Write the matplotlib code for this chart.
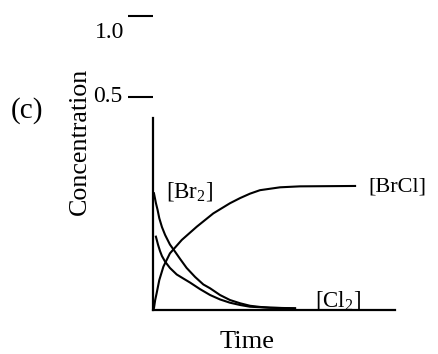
import matplotlib
matplotlib.use("Agg")
import matplotlib.pyplot as plt

plt.rcParams['font.family'] = ['Liberation Serif', 'DejaVu Serif']
plt.rcParams['mathtext.fontset'] = 'custom'
plt.rcParams['mathtext.rm'] = 'Liberation Serif'

# curves (time and concentration in arbitrary units)
t_brcl = [0, 0.04, 0.09, 0.15, 0.26, 0.43, 0.70, 1.19, 1.81, 2.49, 3.18, 3.60,
          4.01, 4.42, 5.25, 6.07, 8.35]
c_brcl = [0, 0.010, 0.052, 0.087, 0.156, 0.226, 0.295, 0.365, 0.434, 0.503,
          0.556, 0.583, 0.606, 0.624, 0.639, 0.644, 0.646]

t_br2 = [0.04, 0.12, 0.19, 0.26, 0.37, 0.50, 0.70, 0.91, 1.12, 1.39, 1.74, 2.08,
         2.36, 2.77, 3.18, 3.60, 4.01, 4.42, 4.84, 5.87]
c_br2 = [0.608, 0.557, 0.521, 0.478, 0.432, 0.391, 0.341, 0.304, 0.266, 0.219,
         0.172, 0.133, 0.113, 0.078, 0.052, 0.035, 0.022, 0.016, 0.012, 0.009]

t_cl2 = [0.12, 0.21, 0.29, 0.37, 0.50, 0.70, 0.98, 1.24, 1.53, 1.94, 2.36, 2.77,
         3.18, 3.60, 4.01, 4.84, 5.87]
c_cl2 = [0.382, 0.339, 0.307, 0.281, 0.252, 0.219, 0.185, 0.165, 0.143, 0.109,
         0.078, 0.055, 0.038, 0.026, 0.017, 0.012, 0.008]

tick_vals = [0.5, 1.0]
tick_labels = ['0.5', '1.0']

W, H = 438, 354
fig = plt.figure(figsize=(W / 100, H / 100), dpi=100)

# main plot area
ax = fig.add_axes([153 / W, 1 - 310 / H, (395 - 153) / W, (310 - 118) / H])
ax.set_xlim(0, 10)
ax.set_ylim(0, 1)
for s in ['top', 'right']:
    ax.spines[s].set_visible(False)
for s in ['left', 'bottom']:
    ax.spines[s].set_linewidth(1.6)
ax.set_xticks([])
ax.set_yticks([])
ax.patch.set_visible(False)

lw = 1.5
ax.plot(t_brcl, c_brcl, color='black', lw=lw, solid_joinstyle='round')
ax.plot(t_br2, c_br2, color='black', lw=lw, solid_joinstyle='round')
ax.plot(t_cl2, c_cl2, color='black', lw=lw, solid_joinstyle='round')

ax.text(8.88, 0.64, '[BrCl]', fontsize=16, ha='left', va='center')
ax.text(0.54, 0.615, r'[Br$_\mathrm{2}$]', fontsize=16.5, ha='left', va='center')
ax.text(6.69, 0.047, r'[Cl$_\mathrm{2}$]', fontsize=16.5, ha='left', va='center')

# the floating scale marks above the axis
tax = fig.add_axes([128 / W, 1 - 97 / H, 25 / W, (97 - 16) / H])
tax.set_xlim(0, 1)
tax.set_ylim(0.5, 1.0)
tax.axis('off')
tax.hlines(tick_vals, 0, 1, color='black', lw=1.5, clip_on=False)
tax.annotate(tick_labels[0], (0, tick_vals[0]), xytext=(-4, 0),
             textcoords='offset points', ha='right', va='center', fontsize=17)
tax.annotate(tick_labels[1], (0, tick_vals[1]), xytext=(-3, -12),
             textcoords='offset points', ha='right', va='center', fontsize=17)

fig.text(247 / W, 0.5 / H, 'Time', fontsize=19, ha='center', va='bottom')
fig.text(80 / W, 1 - 141.5 / H, 'Concentration', fontsize=18.7, rotation=90,
         ha='center', va='center')
fig.text(27 / W, 1 - 111 / H, '(c)', fontsize=21, ha='center', va='center')

fig.savefig('out.png', dpi=100)
